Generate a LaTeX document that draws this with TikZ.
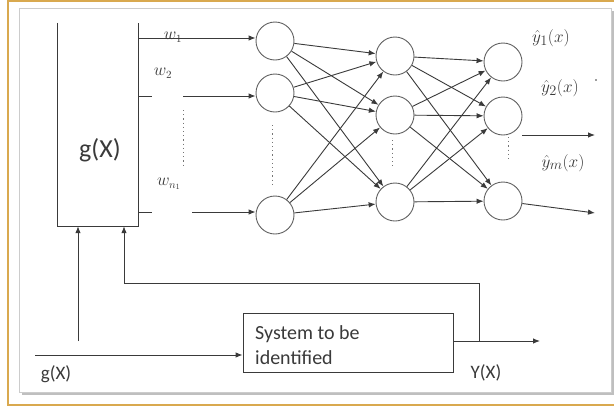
\documentclass[tikz,border=0pt]{standalone}
\usepackage{fontspec}
\setmainfont{Carlito}
\usetikzlibrary{arrows.meta}
\definecolor{framegold}{HTML}{D9A94F}
\definecolor{inkgray}{HTML}{3A3A3A}
\tikzset{
  neuron/.style={circle, draw=inkgray!80, line width=0.9pt, minimum size=38pt, inner sep=0pt},
  wire/.style={draw=inkgray, line width=0.9pt},
  link/.style={wire, -{Latex[length=7pt,width=5.5pt]}},
  dotline/.style={draw=inkgray!70, line width=0.9pt, dash pattern=on 1.2pt off 3pt},
  wlabel/.style={text=inkgray, font=\fontsize{16}{16}\selectfont},
  ylabel/.style={text=inkgray, font=\fontsize{19}{19}\selectfont},
}

\begin{document}
\begin{tikzpicture}[x=1pt, y=-1pt]
			%%%%% START %%%%%
			\useasboundingbox (0,0) rectangle (614,408);
			\fill[white] (0,0) rectangle (614,408);
			
			% frame
			\draw[framegold, line width=1.5pt] (614,1) -- (8,1) -- (8,405) -- (614,405);
			\fill[black!25] (22,11) rectangle (614,395);
			\draw[black!20, fill=white] (19,8) rectangle (611,392);
			
			% g(X) block, open at the top
			\node (gbox) [minimum width=80pt, minimum height=203pt, inner sep=0pt] at (98,124.5) {};
			\draw[wire] (gbox.north west) -- (gbox.south west) -- (gbox.south east) -- (gbox.north east);
			\node (gtext) [text=inkgray, font=\fontsize{26}{26}\selectfont] at (100,150) {g(X)};
			
			% neurons
			\node[neuron] (a1) at (275,41) {};
			\node[neuron] (a2) at (275,93) {};
			\node[neuron] (a3) at (275,215) {};
			
			\node[neuron] (b1) at (395,56) {};
			\node[neuron] (b2) at (395,115) {};
			\node[neuron] (b3) at (395,202) {};
			
			\node[neuron] (c1) at (503,62) {};
			\node[neuron] (c2) at (503,116) {};
			\node[neuron] (c3) at (503,201) {};
			
			% weights into the first layer
			\coordinate (w1s) at (138,38);
			\draw[link] (w1s) -- (w1s -| a1.west);
			\coordinate (w2s) at (138,96);
			\draw[wire] (w2s) -- ++(14,0);
			\coordinate (w2e) at (183,96);
			\draw[link] (w2e) -- (w2e -| a2.west);
			\coordinate (w3s) at (138,212);
			\draw[wire] (w3s) -- ++(14,0);
			\coordinate (w3e) at (192,212);
			\draw[link] (w3e) -- (w3e -| a3.west);
			
			\node[wlabel] (w1) at (173,37) {$w_1$};
			\node[wlabel] (w2) at (163,73) {$w_2$};
			\node[wlabel] (wn) at (169,184) {$w_{n_1}$};
			
			\draw[dotline] (183,110) -- (183,168);
			\draw[dotline] (272,125) -- (272,185);
			\draw[dotline] (392,140) -- (392,168);
			\draw[dotline] (508,137) -- (508,162);
			
			% first to second layer
			\draw[link] (a1) -- (b1);
			\draw[link] (a1) -- (b2);
			\draw[link] (a1) -- (b3);
			\draw[link] (a2) -- (b1);
			\draw[link] (a2) -- (b2);
			\draw[link] (a2) -- (b3);
			\draw[link] (a3) -- (b1);
			\draw[link] (a3) -- (b2);
			\draw[link] (a3) -- (b3);
			
			% second to output layer
			\draw[link] (b1) -- (c1);
			\draw[link] (b1) -- (c2);
			\draw[link] (b1) -- (c3);
			\draw[link] (b2) -- (c1);
			\draw[link] (b2) -- (c2);
			\draw[link] (b2) -- (c3);
			\draw[link] (b3) -- (c1);
			\draw[link] (b3) -- (c2);
			\draw[link] (b3) -- (c3);
			
			% outputs
			\coordinate (o2s) at (522,135);
			\coordinate (o2e) at (595,135);
			\draw[link] (o2s) -- (o2e);
			\coordinate (o3e) at (595,213);
			\draw[link] (c3) -- (o3e);
			
			\node[ylabel] (y1) at (551,38) {$\hat{y}_1(x)$};
			\node[ylabel] (y2) at (560,88) {$\hat{y}_2(x)$};
			\node[ylabel] (ym) at (563,163) {$\hat{y}_m(x)$};
			\node[circle, fill=inkgray, inner sep=0.7pt] (ydot) at (596,80) {};
			
			% plant and feedback
			\node (sys) [draw=inkgray, line width=0.9pt, minimum width=210pt, minimum height=59pt, inner sep=0pt] at (348,342.5) {};
			\node (systxt) [anchor=west, align=left, inner sep=0pt, text=inkgray, font=\fontsize{20}{25}\selectfont] at (255,345) {System to be\\identified};
			
			\coordinate (gin) at (35,355);
			\draw[link] (gin) -- (gin -| sys.west);
			\coordinate (yout) at (540,341);
			\draw[link] (sys.east |- yout) -- (yout);
			\coordinate (fb) at (479,341);
			\coordinate (fbc) at (124,283);
			\draw[link] (fb) |- (fbc) -- (fbc |- gbox.south);
			\coordinate (gup) at (78,341);
			\draw[link] (gup) -- (gup |- gbox.south);
			
			\node (gxlab) [text=inkgray, font=\fontsize{19}{19}\selectfont] at (56,374) {g(X)};
			\node (yxlab) [text=inkgray, font=\fontsize{19}{19}\selectfont] at (486,373) {Y(X)};
			%%%%% END %%%%%
\end{tikzpicture}
\end{document}
